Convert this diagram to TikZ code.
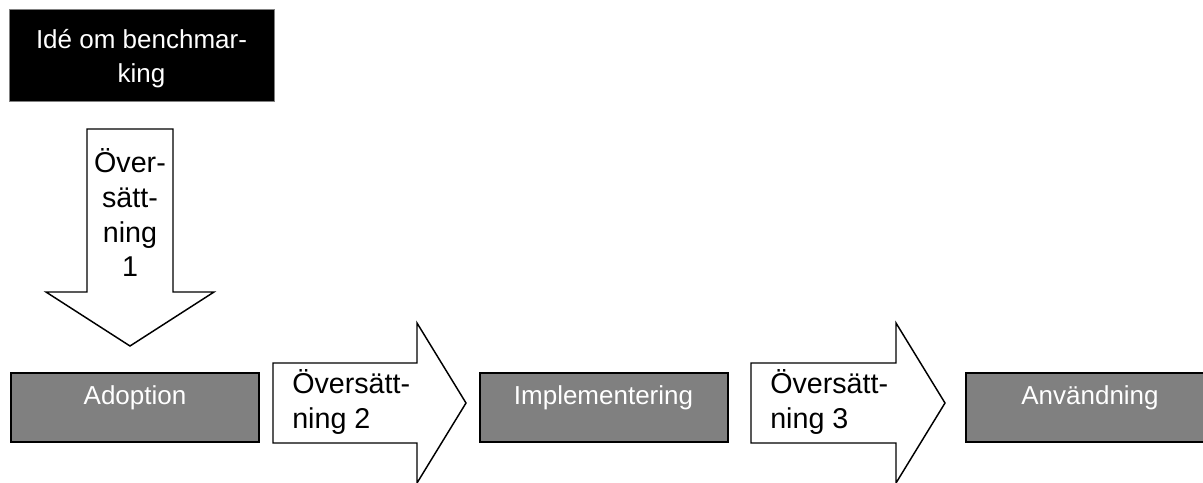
\documentclass[tikz,border=0pt]{standalone}
\usepackage{fontspec}
\setmainfont{Liberation Sans}
\usepackage{tikz}

\tikzset{
	stepbox/.style={draw=black, line width=1.5pt, fill=gray!100!white, minimum width=186pt, minimum height=51.75pt, inner sep=0pt},
	ideabox/.style={draw=gray, line width=0.6pt, fill=black, minimum width=198.75pt, minimum height=69pt, inner sep=0pt},
	boxtext/.style={text=white, font=\fontsize{19.5}{25.5}\selectfont, inner sep=0pt, align=center},
	arrowtext/.style={text=black, font=\fontsize{21.5}{26}\selectfont, inner sep=0pt},
	blockarrow/.style={draw=black, line width=1.1pt, fill=white, line join=miter},
}

\begin{document}
\begin{tikzpicture}[x=0.75pt, y=-0.75pt]
	\useasboundingbox (0,0) rectangle (1203,482);
	\clip (0,0) rectangle (1203,482);

	% idea box
	\node[ideabox] (idea) at (141.5,55) {};
	\node[boxtext] (ideatext) at (141.5,59) {Idé om benchmar-\\king};

	% block arrows
	\coordinate (arr1) at (130,129);
	\coordinate (arr2) at (273,403);
	\coordinate (arr3) at (751,403);
	\draw[blockarrow] (arr1) ++(-43,0) -- ++(86,0) -- ++(0,163) -- ++(41,0)
		-- ++(-84,54) -- ++(-84,-54) -- ++(41,0) -- cycle;
	\draw[blockarrow] (arr2) ++(0,-40) -- ++(144,0) -- ++(0,-40) -- ++(49,80)
		-- ++(-49,80) -- ++(0,-40) -- ++(-144,0) -- cycle;
	\draw[blockarrow] (arr3) ++(0,-40) -- ++(145,0) -- ++(0,-40) -- ++(49,80)
		-- ++(-49,80) -- ++(0,-40) -- ++(-145,0) -- cycle;
	\node[arrowtext, align=center] (tr1) at (130,213) {Över-\\sätt-\\ning\\1};
	\node[arrowtext, align=left, anchor=west] (tr2) at (292,402) {Översätt-\\ning 2};
	\node[arrowtext, align=left, anchor=west] (tr3) at (770,402) {Översätt-\\ning 3};

	% steps
	\node[stepbox] (adopt) at (135,407.5) {};
	\node[stepbox] (impl) at (603.5,407.5) {};
	\node[stepbox] (use) at (1090,407.5) {};
	\node[boxtext] (adopttext) at ([yshift=7pt]adopt.center) {Adoption};
	\node[boxtext] (impltext) at ([yshift=7pt]impl.center) {Implementering};
	\node[boxtext] (usetext) at ([yshift=7pt]use.center) {Användning};
\end{tikzpicture}
\end{document}
